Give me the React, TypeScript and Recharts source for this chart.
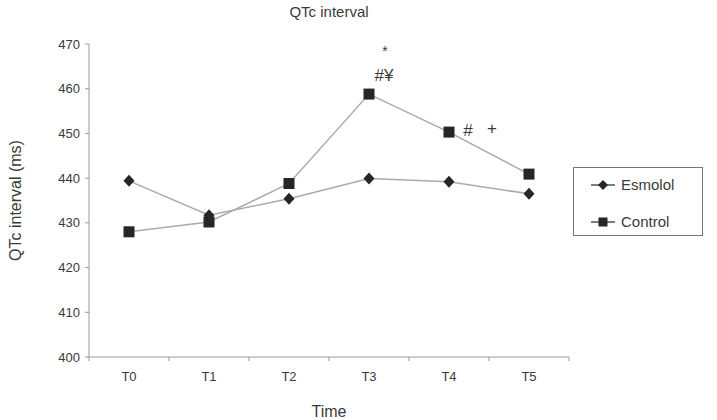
import { LineChart, Line, XAxis, YAxis, LabelList } from 'recharts';

// QTc interval over time, esmolol vs control group
const times = ['T0', 'T1', 'T2', 'T3', 'T4', 'T5'];
const esmolol = [439.4, 431.7, 435.4, 439.9, 439.2, 436.5];
const control = [428.0, 430.2, 438.8, 458.8, 450.3, 440.9];
// significance marks drawn beside the control points
const sigTop = ['', '', '', '*', '', ''];
const sigMain = ['', '', '', '#¥', '#', ''];
const sigSide = ['', '', '', '', '+', ''];
const yTicks = [400, 410, 420, 430, 440, 450, 460, 470];

const data = times.map((t, i) => ({ idx: i, time: t, esmolol: esmolol[i], control: control[i] }));

// ticks at category centres carry the labels, half-step ticks carry the tick marks
const xTicks: number[] = [];
for (let i = 0; i <= times.length * 2; i++) xTicks.push(i / 2 - 0.5);

const FONT = '"Liberation Sans", Arial, Helvetica, sans-serif';
const TEXT = '#3a3a3a';
const AXIS = '#9a9a9a';
const LINE = '#ababab';
const MARK = '#262626';

const Diamond = ({ cx, cy }: any) =>
  cx == null ? null : (
    <path d={`M${cx},${cy - 6}L${cx + 5.5},${cy}L${cx},${cy + 6}L${cx - 5.5},${cy}Z`} fill={MARK} />
  );

const Square = ({ cx, cy }: any) =>
  cx == null ? null : <rect x={cx - 5.5} y={cy - 5.5} width={11} height={11} fill={MARK} />;

const XTick = ({ x, y, payload }: any) => {
  const v = payload.value;
  if (Number.isInteger(v)) {
    return (
      <text x={x} y={y + 24} textAnchor="middle" fontSize={13} fill={TEXT} fontFamily={FONT}>
        {times[v]}
      </text>
    );
  }
  return <line x1={x} y1={y} x2={x} y2={y + 4} stroke={AXIS} strokeWidth={1} />;
};

const SigLabel = ({ x, y, index }: any) => (
  <g fontFamily={FONT}>
    {sigTop[index] && (
      <text x={x + 16} y={y - 38} textAnchor="middle" fontSize={14} fill={TEXT} stroke="none">
        {sigTop[index]}
      </text>
    )}
    {sigMain[index] && (
      <text x={x + (index === 3 ? 15 : 19)} y={y + (index === 3 ? -13 : 4)} textAnchor="middle" fontSize={17} fill={TEXT} stroke="none">
        {sigMain[index]}
      </text>
    )}
    {sigSide[index] && (
      <text x={x + 43} y={y + 2} textAnchor="middle" fontSize={17} fill={TEXT} stroke="none">
        {sigSide[index]}
      </text>
    )}
  </g>
);

const LegendIcon = ({ square }: { square: boolean }) => (
  <svg width={24} height={12} style={{ marginRight: 6 }}>
    <line x1={0} y1={6} x2={24} y2={6} stroke={MARK} strokeWidth={1.2} />
    {square ? (
      <rect x={7.5} y={1.5} width={9} height={9} fill={MARK} />
    ) : (
      <path d="M12,1L17,6L12,11L7,6Z" fill={MARK} />
    )}
  </svg>
);

export default function App() {
  return (
    <div
      style={{
        position: 'absolute',
        left: 0,
        top: 0,
        width: 717,
        height: 420,
        background: '#fff',
        fontFamily: FONT,
        color: TEXT,
      }}
    >
      <div style={{ position: 'absolute', left: 229, width: 200, top: 3, textAlign: 'center', fontSize: 15 }}>
        QTc interval
      </div>

      <LineChart width={717} height={420} data={data} margin={{ top: 44, right: 148, bottom: 23, left: 0 }}>
        <XAxis
          dataKey="idx"
          type="number"
          domain={[-0.5, 5.5]}
          ticks={xTicks}
          interval={0}
          tick={<XTick />}
          tickLine={false}
          tickSize={0}
          tickMargin={0}
          height={40}
          stroke={AXIS}
          allowDecimals
          label={({ viewBox }: any) => (
            <text
              x={viewBox.x + viewBox.width / 2}
              y={viewBox.y + 60}
              textAnchor="middle"
              fontSize={16}
              fill={TEXT}
              fontFamily={FONT}
            >
              Time
            </text>
          )}
        />
        <YAxis
          domain={[400, 470]}
          ticks={yTicks}
          interval={0}
          width={89}
          tickSize={4}
          tickMargin={5}
          stroke={AXIS}
          tick={{ fill: TEXT, fontSize: 13, fontFamily: FONT }}
          label={({ viewBox }: any) => {
            const cx = 17;
            const cy = viewBox.y + viewBox.height / 2;
            return (
              <text
                x={cx}
                y={cy}
                transform={`rotate(-90, ${cx}, ${cy})`}
                textAnchor="middle"
                dominantBaseline="middle"
                fontSize={16}
                fill={TEXT}
                fontFamily={FONT}
              >
                QTc interval (ms)
              </text>
            );
          }}
        />
        <Line
          dataKey="esmolol"
          name="Esmolol"
          stroke={LINE}
          strokeWidth={1.5}
          dot={<Diamond />}
          activeDot={false}
          isAnimationActive={false}
        />
        <Line
          dataKey="control"
          name="Control"
          stroke={LINE}
          strokeWidth={1.5}
          dot={<Square />}
          activeDot={false}
          isAnimationActive={false}
        >
          <LabelList dataKey="control" content={<SigLabel />} />
        </Line>
      </LineChart>

      <div
        style={{
          position: 'absolute',
          left: 573,
          top: 167,
          width: 128,
          height: 67,
          border: `1.5px solid #777`,
          fontSize: 15,
          boxSizing: 'content-box',
        }}
      >
        <div style={{ display: 'flex', alignItems: 'center', position: 'absolute', left: 17, top: 8 }}>
          <LegendIcon square={false} />
          Esmolol
        </div>
        <div style={{ display: 'flex', alignItems: 'center', position: 'absolute', left: 17, top: 45 }}>
          <LegendIcon square />
          Control
        </div>
      </div>
    </div>
  );
}
